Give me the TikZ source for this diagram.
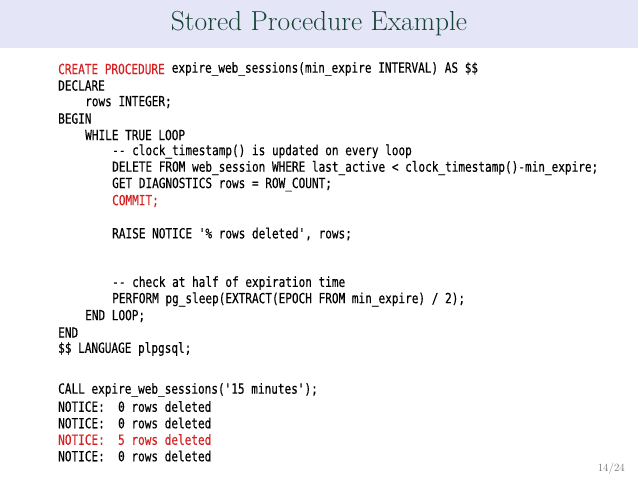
\documentclass[tikz,border=0pt]{standalone}
\usepackage{fontspec}
\newfontfamily\codefont[FakeStretch=0.79,FakeBold=0.3]{DejaVu Sans Mono}
\definecolor{band}{HTML}{E4E6F7}
\definecolor{ttl}{HTML}{174535}
\definecolor{kred}{HTML}{D42020}
\begin{document}
\begin{tikzpicture}[x=1pt,y=-1pt,
  code/.style={anchor=west,inner sep=0pt,font=\codefont\fontsize{14}{14}\selectfont},
  red/.style={code,text=kred}]
\useasboundingbox (0,0) rectangle (638,479);
\fill[band] (0,0) rectangle (638,48);
\node[inner sep=0pt,text=ttl,font=\fontsize{27.5}{27.5}\selectfont] (title) at (319,24) {Stored Procedure Example};
\node[red] (l1a) at (58,69) {CREATE PROCEDURE};
\node[code] (l1b) at (l1a.east) [anchor=west,xshift=6.65pt] {expire\_web\_sessions(min\_expire INTERVAL) AS \$\$};
\node[code] (l2) at (58,85.5) {DECLARE};
\node[code] (l3) at (85,102) {rows INTEGER;};
\node[code] (l4) at (58,118.5) {BEGIN};
\node[code] (l5) at (85,135) {WHILE TRUE LOOP};
\node[code] (l6) at (112,151.5) {-{}- clock\_timestamp() is updated on every loop};
\node[code] (l7) at (112,168) {DELETE FROM web\_session WHERE last\_active < clock\_timestamp()-min\_expire;};
\node[code] (l8) at (112,184.5) {GET DIAGNOSTICS rows = ROW\_COUNT;};
\node[red] (l9) at (112,201) {COMMIT;};
\node[code] (l10) at (112,234) {RAISE NOTICE '\% rows deleted', rows;};
\node[code] (l11) at (112,283) {-{}- check at half of expiration time};
\node[code] (l12) at (112,299.5) {PERFORM pg\_sleep(EXTRACT(EPOCH FROM min\_expire) / 2);};
\node[code] (l13) at (85,316) {END LOOP;};
\node[code] (l14) at (58,332.5) {END};
\node[code] (l15) at (58,349) {\$\$ LANGUAGE plpgsql;};
\node[code] (l16) at (58,390) {CALL expire\_web\_sessions('15 minutes');};
\node[code] (l17) at (58,406.5) {NOTICE:\ \ 0 rows deleted};
\node[code] (l18) at (58,423) {NOTICE:\ \ 0 rows deleted};
\node[red] (l19) at (58,439.5) {NOTICE:\ \ 5 rows deleted};
\node[code] (l20) at (58,456) {NOTICE:\ \ 0 rows deleted};
\node[anchor=east,inner sep=0pt,text=black!55,font=\fontsize{11}{11}\selectfont] (pg) at (625,469) {14/24};
\end{tikzpicture}
\end{document}
